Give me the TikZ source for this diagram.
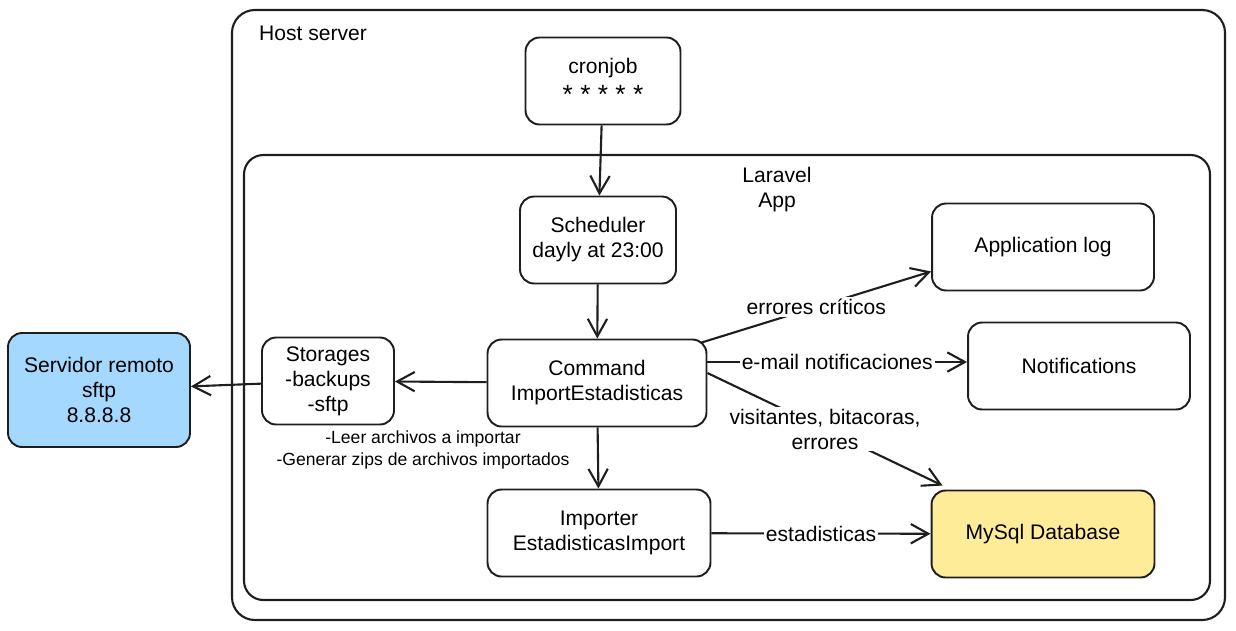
\documentclass[tikz,border=0pt]{standalone}
\usepackage{fontspec}
\setmainfont{Liberation Sans}
\usepackage{xcolor}
\usetikzlibrary{arrows.meta, positioning, calc}

\definecolor{ink}{HTML}{1E1E1E}
\definecolor{remoteblue}{HTML}{A5D8FF}
\definecolor{dbyellow}{HTML}{FFEC99}

\begin{document}
\begin{tikzpicture}[
    x=0.02cm,
    y=-0.02cm,
    >={Straight Barb[length=10pt,width=11pt]},
    box/.style={
        rectangle,
        rounded corners=8pt,
        draw=ink,
        line width=1.1pt,
        fill=white,
        minimum width=4.44cm,
        minimum height=1.74cm,
        inner sep=2pt,
        align=center,
        font=\fontsize{12}{14.2}\selectfont
    },
    frame/.style={
        rounded corners=13pt,
        draw=ink,
        line width=1.2pt
    },
    conn/.style={
        ->,
        draw=ink,
        line width=1.2pt
    },
    lbl/.style={
        fill=white,
        inner sep=1pt,
        align=center,
        font=\fontsize{12}{14.2}\selectfont
    },
    note/.style={
        align=center,
        font=\fontsize{10}{12.5}\selectfont
    }
]

\useasboundingbox (0,0) rectangle (1236,630);

% Containers
\draw[frame] (232,10) rectangle (1225,620);
\draw[frame, rounded corners=11pt] (244,155) rectangle (1210,600);
\node[lbl, anchor=west] (hostlbl) at (257,33) {Host server};
\node[lbl] (laravellbl) at (777,190) {Laravel\\App};

% Main vertical chain
\node[box, minimum width=3.1cm] (cron) at (603,81) {cronjob\\\raisebox{-3pt}{\fontsize{15}{15}\selectfont * * * * *}};
\node[box, minimum width=3.12cm] (sched) at (598,240) {Scheduler\\dayly at 23:00};
\node[box, minimum width=4.38cm] (cmd) at (597,383) {Command\\ImportEstadisticas};
\node[box, minimum width=4.46cm] (imp) at (599,533) {Importer\\EstadisticasImport};

% Left side
\node[box, minimum width=2.64cm] (stor) at (328,381) {Storages\\-backups\\-sftp};
\node[box, fill=remoteblue, minimum width=3.64cm, minimum height=2.28cm] (remote) at (99,390) {Servidor remoto\\sftp\\8.8.8.8};
\node[note] (storenote) at (423,450) {-Leer archivos a importar\\-Generar zips de archivos importados};

% Right side
\node[box] (applog) at (1043,247) {Application log};
\node[box] (notif) at (1079,366) {Notifications};
\node[box, fill=dbyellow, minimum width=4.46cm] (db) at (1043,534) {MySql Database};

% Arrows
\draw[conn] (cron) -- (sched);
\draw[conn] (sched) -- (cmd);
\draw[conn] (cmd) -- (stor);
\draw[conn] (stor) -- (remote);
\draw[conn] (cmd) -- (imp);

\draw[conn] ($(cmd.north east)+(-6,4)$) -- node[lbl] {errores críticos} ($(applog.south west)+(0,-20)$);
\draw[conn] ($(cmd.east |- notif.west)+(0,-4)$) -- node[lbl] {e-mail notificaciones} ($(notif.west)+(0,-4)$);
\draw[conn] ($(cmd.east)+(0,-10)$) -- node[lbl] {visitantes, bitacoras,\\errores} ($(db.north west)+(12,-4)$);
\draw[conn] (imp) -- node[lbl] {estadisticas} (db);

\end{tikzpicture}
\end{document}
